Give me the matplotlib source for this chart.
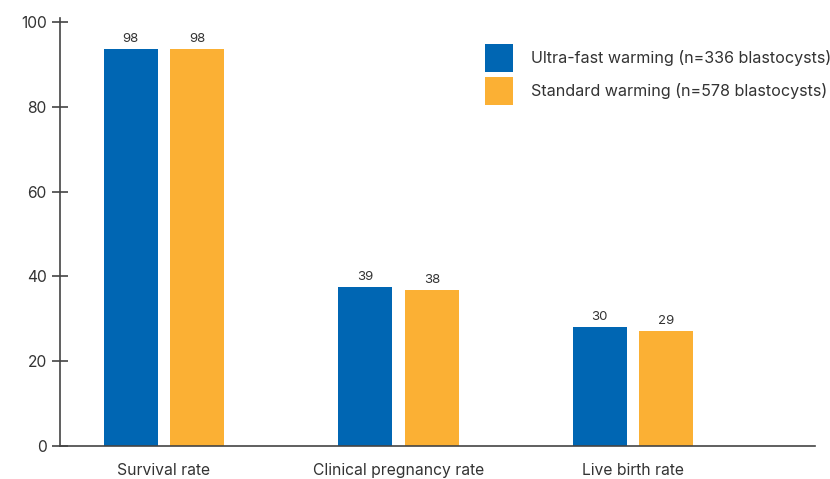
import matplotlib
matplotlib.use("Agg")
import matplotlib.pyplot as plt
import numpy as np

plt.rcParams['font.family'] = ['Inter', 'DejaVu Sans']

categories = ['Survival rate', 'Clinical pregnancy rate', 'Live birth rate']
series_names = ['Ultra-fast warming (n=336 blastocysts)',
                'Standard warming (n=578 blastocysts)']
# bar heights as drawn in the picture, and the numbers printed above them
ultra_heights = [93.6, 37.5, 28.1]
standard_heights = [93.6, 36.8, 27.1]
ultra_labels = ['98', '39', '30']
standard_labels = ['98', '38', '29']

blue = '#0066b3'
orange = '#fbb034'
text_col = '#333333'
axis_col = '#444444'

fig = plt.figure(figsize=(8.3, 4.79), dpi=100)
ax = fig.add_axes([60/830, 33/479, 755/830, 428/479])

x = np.arange(len(categories))
w = 0.23
off = 0.142
b1 = ax.bar(x - off, ultra_heights, w, color=blue, label=series_names[0])
b2 = ax.bar(x + off, standard_heights, w, color=orange, label=series_names[1])

for bars, labs in [(b1, ultra_labels), (b2, standard_labels)]:
    for r, lab in zip(bars, labs):
        ax.annotate(lab, (r.get_x() + r.get_width()/2, r.get_height()),
                    xytext=(0, 3), textcoords='offset points',
                    ha='center', va='bottom', fontsize=9.5, color=text_col)

ax.set_xlim(-0.4435, 2.776)
ax.set_ylim(0, 101)
ax.set_yticks([0, 20, 40, 60, 80, 100])
ax.set_xticks(x)
ax.set_xticklabels(categories)

for s in ['top', 'right']:
    ax.spines[s].set_visible(False)
for s in ['left', 'bottom']:
    ax.spines[s].set_color(axis_col)
    ax.spines[s].set_linewidth(1.2)

ax.tick_params(axis='y', direction='inout', length=11, width=1.2,
               color=axis_col, labelsize=11.2, labelcolor=text_col, pad=4)
ax.tick_params(axis='x', length=0, labelsize=11.3, labelcolor=text_col, pad=12)

fig.legend(loc='upper left', bbox_to_anchor=(485/830, 1 - 44/479),
           frameon=False, borderpad=0, borderaxespad=0,
           handlelength=1.74, handleheight=2.3, labelspacing=0.3,
           handletextpad=1.12, fontsize=11.6, labelcolor=text_col)

fig.savefig('out.png', dpi=100)
